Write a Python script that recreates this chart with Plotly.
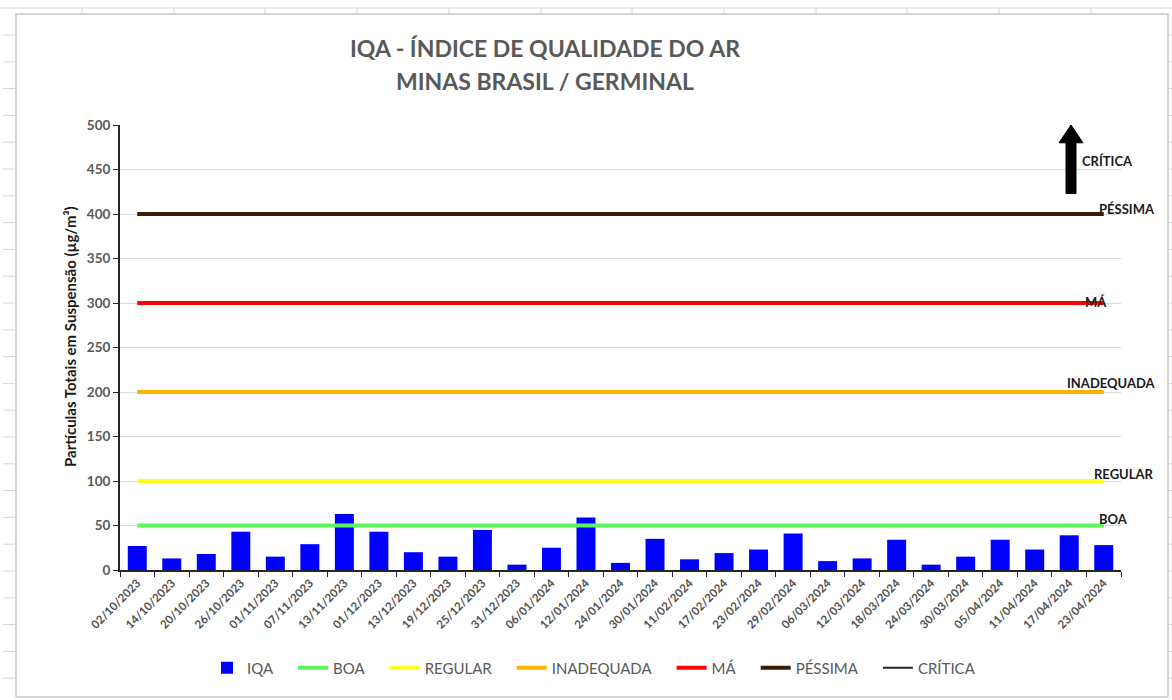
import plotly.graph_objects as go

dates = ["02/10/2023", "14/10/2023", "20/10/2023", "26/10/2023", "01/11/2023", "07/11/2023",
         "13/11/2023", "01/12/2023", "13/12/2023", "19/12/2023", "25/12/2023", "31/12/2023",
         "06/01/2024", "12/01/2024", "24/01/2024", "30/01/2024", "11/02/2024", "17/02/2024",
         "23/02/2024", "29/02/2024", "06/03/2024", "12/03/2024", "18/03/2024", "24/03/2024",
         "30/03/2024", "05/04/2024", "11/04/2024", "17/04/2024", "23/04/2024"]
iqa = [27, 13, 18, 43, 15, 29, 63, 43, 20, 15, 45, 6, 25, 59, 8, 35, 12, 19, 23, 41,
       10, 13, 34, 6, 15, 34, 23, 39, 28]

limit_names = ["BOA", "REGULAR", "INADEQUADA", "MÁ", "PÉSSIMA"]
limit_values = [50, 100, 200, 300, 400]
limit_colors = ["#5CF55C", "#FFFF1A", "#FFB300", "#FF0000", "#3A1D06"]
critica_from, critica_to = 423, 500

W, H = 1172, 700
L, R, T, B = 120, 51, 125, 130
PW, PH = W - L - R, H - T - B


def px(x):
    return (x - L) / PW


def py(y):
    return (H - B - y) / PH


FONT = "Lato"
GREY = "#595959"
PAD = "\u2002\u2002"

fig = go.Figure()
fig.add_trace(go.Bar(x=dates, y=iqa, name="IQA" + PAD, marker_color="#0000FF",
                     marker_line_width=0, width=0.55))
for n, v, c in zip(limit_names, limit_values, limit_colors):
    fig.add_trace(go.Scatter(x=dates, y=[v] * len(dates), name=n + PAD, mode="lines",
                             line=dict(color=c, width=4)))
fig.add_trace(go.Scatter(x=[None], y=[None], name="CRÍTICA", mode="lines",
                         line=dict(color="#262626", width=2)))

label_pos = {"BOA": (1113, 519), "REGULAR": (1124, 474), "INADEQUADA": (1111, 383),
             "MÁ": (1096, 302), "PÉSSIMA": (1127, 209)}
LBL = dict(family=FONT, size=13, color="#1a1a1a")
anns = []
for n in limit_names:
    xp, yp = label_pos[n]
    anns.append(dict(x=px(xp), y=py(yp), xref="paper", yref="paper", text="<b>" + n + "</b>",
                     xanchor="center", yanchor="middle", showarrow=False, font=LBL))
anns.append(dict(x=px(1107), y=py(161), xref="paper", yref="paper", text="<b>CRÍTICA</b>",
                 xanchor="center", yanchor="middle", showarrow=False, font=LBL))
# title
for txt, yy in [("IQA - ÍNDICE DE QUALIDADE DO AR", 48), ("MINAS BRASIL / GERMINAL", 81)]:
    anns.append(dict(x=px(545), y=py(yy), xref="paper", yref="paper", text="<b>" + txt + "</b>",
                     xanchor="center", yanchor="middle", showarrow=False,
                     font=dict(family=FONT, size=23, color=GREY)))
# y-axis title
anns.append(dict(x=px(70), y=py(337), xref="paper", yref="paper", textangle=-90,
                 text="<b>Partículas Totais em Suspensão (µg/m³)</b>",
                 xanchor="center", yanchor="middle", showarrow=False,
                 font=dict(family=FONT, size=15, color="#1a1a1a")))

GRID = "#D6D6D6"
shapes = []
# critical arrow (paper x, data y)
xc = px(1071)
hw, sw = 12 / PW, 5 / PW
head_base = critica_to - 20
shapes.append(dict(type="path", xref="paper", yref="y",
                   path=(f"M {xc - sw} {critica_from} L {xc - sw} {head_base} L {xc - hw} {head_base} "
                         f"L {xc} {critica_to} L {xc + hw} {head_base} L {xc + sw} {head_base} "
                         f"L {xc + sw} {critica_from} Z"),
                   fillcolor="#000000", line=dict(color="#000000", width=1)))
# spreadsheet background + chart frame
shapes.append(dict(type="rect", xref="paper", yref="paper", x0=px(16), x1=px(1168),
                   y0=py(14), y1=py(697), line=dict(color="#C8C8C8", width=1.5), layer="below"))
shapes.append(dict(type="line", xref="paper", yref="paper", x0=px(0), x1=px(1172),
                   y0=py(8), y1=py(8), line=dict(color=GRID, width=1), layer="below"))
for xcol in [82, 174, 265, 357, 449, 541, 632, 724, 816, 907, 999, 1091]:
    shapes.append(dict(type="line", xref="paper", yref="paper", x0=px(xcol), x1=px(xcol),
                       y0=py(8), y1=py(14), line=dict(color=GRID, width=1), layer="below"))
k = 0
while 35 + 26.8 * k < 700:
    yy = 35 + 26.8 * k
    shapes.append(dict(type="line", xref="paper", yref="paper", x0=px(3), x1=px(16),
                       y0=py(yy), y1=py(yy), line=dict(color=GRID, width=1), layer="below"))
    shapes.append(dict(type="line", xref="paper", yref="paper", x0=px(1168), x1=px(1172),
                       y0=py(yy), y1=py(yy), line=dict(color=GRID, width=1), layer="below"))
    k += 1

fig.update_layout(
    width=W, height=H,
    margin=dict(l=L, r=R, t=T, b=B),
    paper_bgcolor="white", plot_bgcolor="white",
    font=dict(family=FONT, color=GREY),
    showlegend=True,
    legend=dict(orientation="h", x=px(594), y=py(668), xanchor="center", yanchor="middle",
                font=dict(family=FONT, size=15, color=GREY), traceorder="normal",
                itemwidth=30, bgcolor="rgba(0,0,0,0)"),
    annotations=anns,
    shapes=shapes,
)
fig.update_xaxes(type="category", range=[-0.5, len(dates) - 0.5], tickangle=-45,
                 tickfont=dict(family=FONT, size=11.5, color="#505050"), showgrid=False,
                 showline=True, linecolor="#262626", linewidth=2, ticks="outside",
                 tickcolor="#262626", ticklen=5, tickson="boundaries",
                 tickprefix="<b>", ticksuffix="</b>")
fig.update_yaxes(range=[0, 500], dtick=50, tickfont=dict(family=FONT, size=13.5, color=GREY),
                 tickprefix="<b>", ticksuffix="</b>",
                 showgrid=True, gridcolor="#D9D9D9", gridwidth=1, zeroline=False,
                 showline=True, linecolor="#262626", linewidth=2, ticks="outside",
                 tickcolor="#262626", ticklen=5)

fig.write_html("out.html", config={"displayModeBar": False},
               post_script="document.body.style.margin='0';")
